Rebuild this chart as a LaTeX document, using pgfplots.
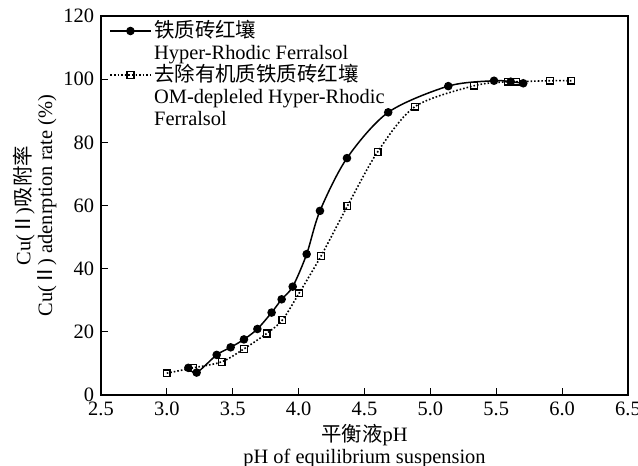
\documentclass[border=0pt]{standalone}
\usepackage{pgfplots}
\pgfplotsset{compat=1.18}
\usepackage{fontspec}
\setmainfont{Liberation Serif}
\newfontfamily\cjk{Noto Sans CJK SC}
\newcommand\ff{\fontsize{20.5}{22}\selectfont}
\begin{document}
\ff
\begin{tikzpicture}
\begin{axis}[
  scale only axis,
  width=527bp, height=379bp,
  xmin=2.5, xmax=6.5, ymin=0, ymax=120,
  xtick={2.5,3.0,...,6.5},
  ytick={0,20,...,120},
  tick pos=left,
  tick align=inside,
  major tick length=7bp,
  axis line style={line width=1.3pt},
  tick style={line width=1.1pt, black},
  /pgf/number format/assume math mode=true,
  xticklabel style={font=\ff, /pgf/number format/fixed, /pgf/number format/fixed zerofill, /pgf/number format/precision=1},
  yticklabel style={font=\ff},
  xlabel={{\cjk 平衡液}pH\\pH of equilibrium suspension},
  xlabel style={font=\ff, align=center, yshift=5bp},
  ylabel={Cu({\cjk Ⅱ}){\cjk 吸附率}\\Cu({\cjk Ⅱ}) adenrption rate (\%)},
  ylabel style={font=\ff, align=center, yshift=-7bp},
  legend style={draw=none, fill=none, at={(0.016,0.987)}, anchor=north west, font=\ff,
    cells={anchor=base west}, inner sep=0pt, row sep=0bp,
    nodes={text height=15bp, text depth=5bp, inner xsep=3bp, inner ysep=1bp}},
  legend image code/.code={\draw[mark repeat=2,mark phase=2,#1] plot coordinates {(0bp,0.3em) (20bp,0.3em) (40bp,0.3em)};},
]
\coordinate (ll) at (rel axis cs:0,0);
\addplot[black, line width=1.5pt, smooth, mark=*, mark size=3.5bp, mark options={solid}]
coordinates {
(3.163,8.6) (3.226,7.1) (3.378,12.7) (3.484,15.1) (3.585,17.6) (3.687,20.9)
(3.795,26.1) (3.871,30.3) (3.955,34.3) (4.061,44.6) (4.162,58.3) (4.367,75.0)
(4.68,89.5) (5.136,97.8) (5.483,99.5) (5.61,99.2) (5.705,98.7)
};
\addlegendentry{{\cjk 铁质砖红壤}}
\addlegendimage{empty legend}
\addlegendentry{Hyper-Rhodic Ferralsol}
\addplot[black, line width=1.6pt, dotted, smooth, mark=square, mark size=3.4bp, mark options={solid, line width=1.4pt}]
coordinates {
(2.999,6.9) (3.20,8.6) (3.416,10.5) (3.585,14.6) (3.758,19.5) (3.876,23.7)
(4.003,32.2) (4.17,44.0) (4.37,59.8) (4.60,77.0) (4.883,91.3) (5.33,97.9)
(5.59,99.2) (5.65,99.2) (5.908,99.5) (6.07,99.5)
};
\addlegendentry{{\cjk 去除有机质铁质砖红壤}}
\addlegendimage{empty legend}
\addlegendentry{OM-depleled Hyper-Rhodic}
\addlegendimage{empty legend}
\addlegendentry{Ferralsol}
\end{axis}
\pgfresetboundingbox
\path ([shift={(-101bp,-71bp)}]ll) rectangle ([shift={(537bp,395bp)}]ll);
\end{tikzpicture}
\end{document}
